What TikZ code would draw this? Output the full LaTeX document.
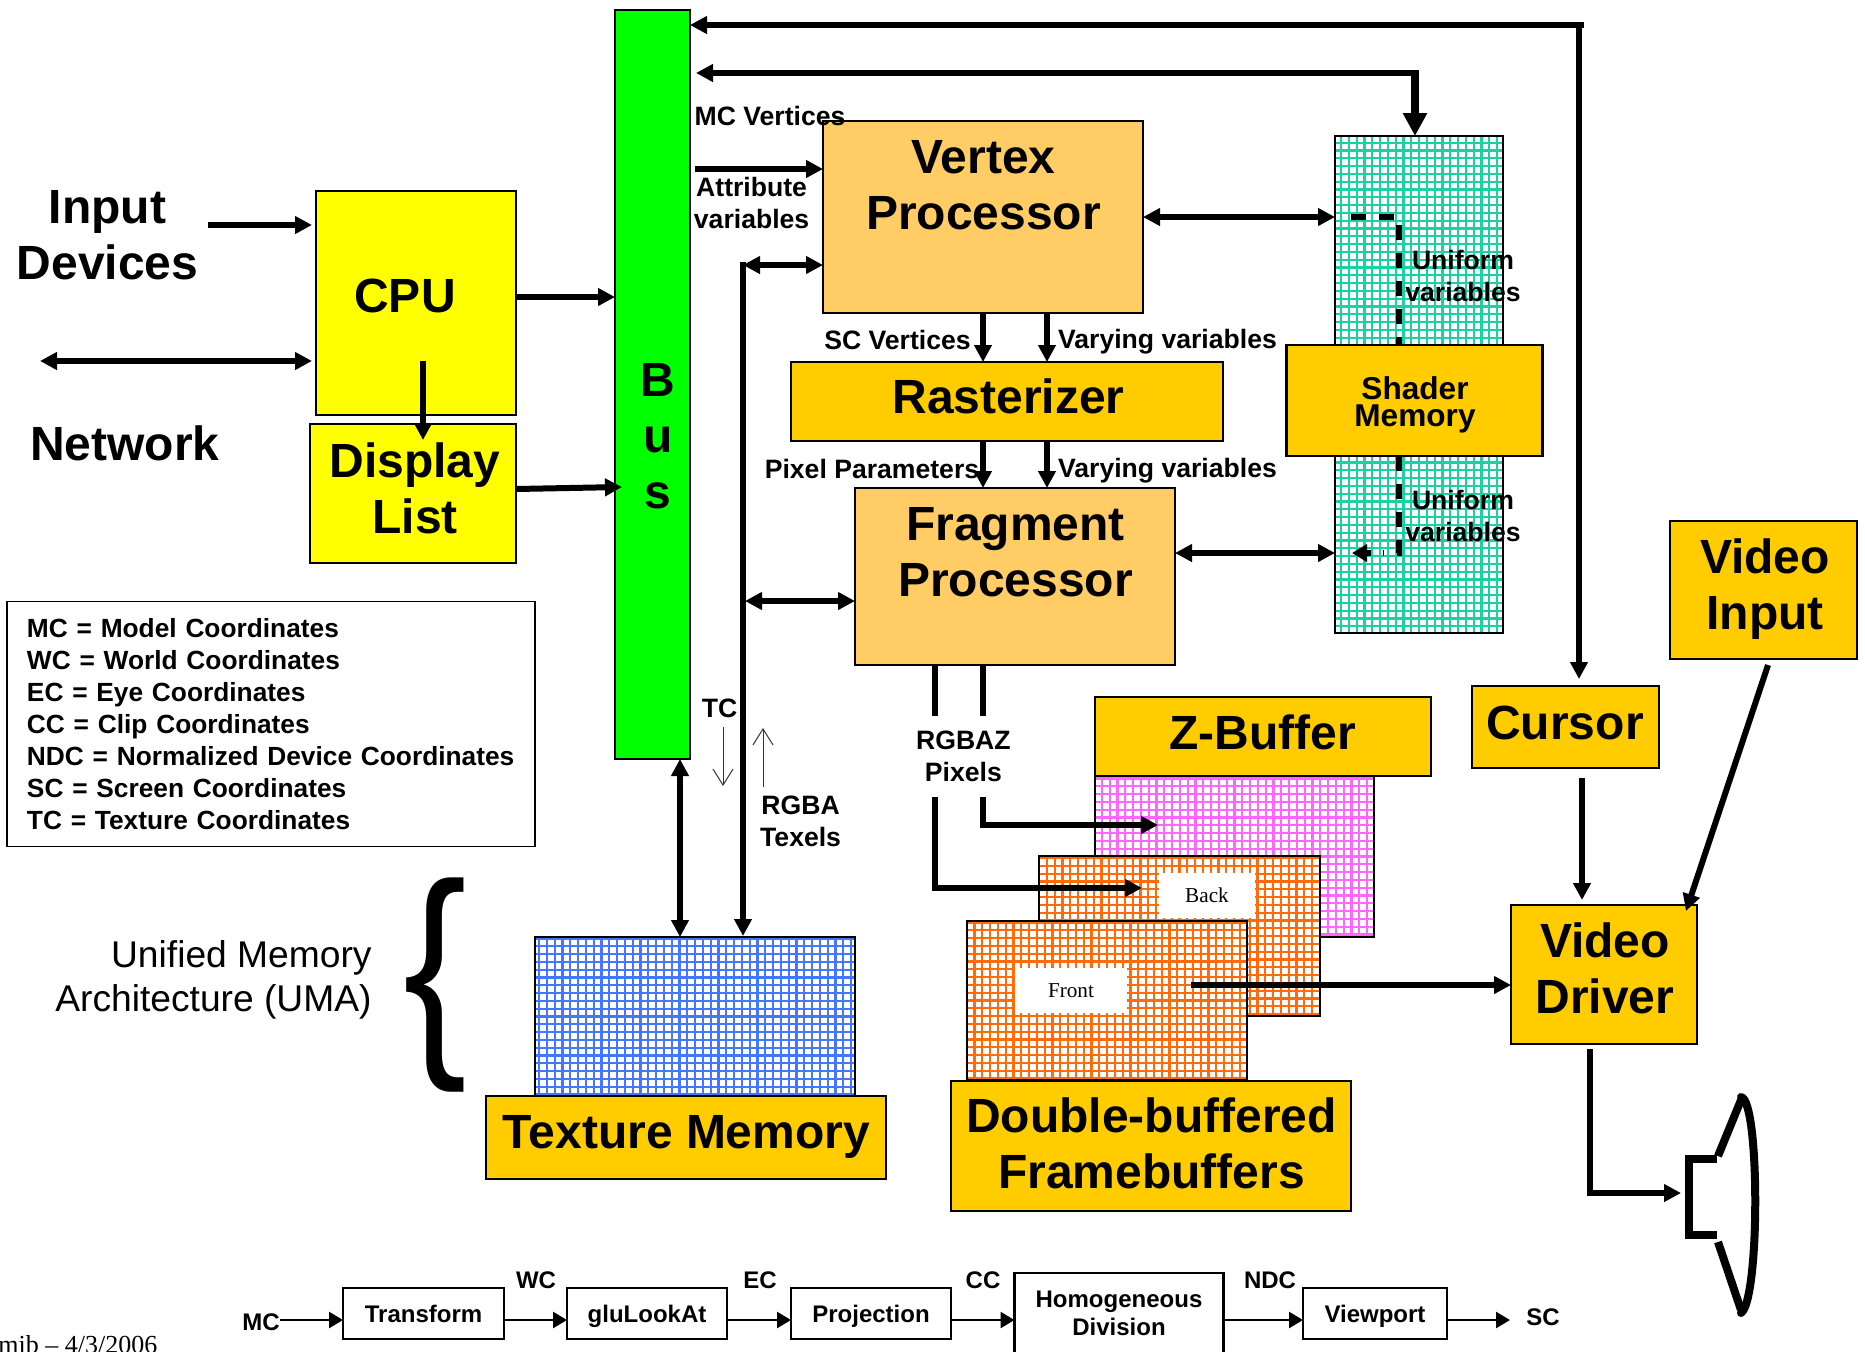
\documentclass[tikz,border=0pt]{standalone}
\usepackage{fontspec}
\setmainfont{Liberation Serif}
\setsansfont{Liberation Sans}
\usepackage{tikz}
\usetikzlibrary{arrows.meta,positioning}

\definecolor{cpuyellow}{HTML}{FFFF00}
\definecolor{boxgold}{HTML}{FFCC00}
\definecolor{procorange}{HTML}{FFCC66}
\definecolor{busgreen}{HTML}{00FF00}
\definecolor{meshgreen}{HTML}{19D1A3}
\definecolor{meshpink}{HTML}{FF66FF}
\definecolor{meshorange}{HTML}{FF6A0A}
\definecolor{meshblue}{HTML}{4477FF}

\tikzset{
  block/.style={draw=black,line width=1.3pt,outer sep=0pt,inner sep=0pt},
  bigtext/.style={inner sep=0pt,font=\sffamily\bfseries\fontsize{24}{28}\selectfont,align=center},
  smalltext/.style={inner sep=0pt,font=\sffamily\bfseries\fontsize{13.3}{16}\selectfont,align=center},
  chaintext/.style={inner sep=0pt,font=\sffamily\bfseries\fontsize{12}{14}\selectfont,align=center},
  chainbox/.style={draw=black,line width=1.2pt,outer sep=0pt,inner sep=0pt,font=\sffamily\bfseries\fontsize{12}{14}\selectfont,align=center},
  chainone/.style={chainbox,text height=8.6pt,text depth=0pt},
  whitetag/.style={fill=white,inner sep=0pt,minimum height=22.5pt,font=\rmfamily\fontsize{10.6}{12}\selectfont},
  mesh/.style={draw=black,line width=1.3pt,outer sep=0pt,inner sep=0pt,fill=white,
    path picture={\draw[draw=#1,line width=1.1pt,step=3.9pt] (path picture bounding box.south west) grid (path picture bounding box.north east);}},
  conn/.style={line width=3pt,-{Triangle[length=8.5pt,width=8.5pt]}},
  biconn/.style={line width=3pt,{Triangle[length=8.5pt,width=8.5pt]}-{Triangle[length=8.5pt,width=8.5pt]}},
  thinconn/.style={line width=1.2pt,-{Triangle[length=7pt,width=8pt]}},
  hairconn/.style={line width=0.5pt,draw=black!80,-{Straight Barb[length=8pt,width=10pt]}},
  wire/.style={line width=3pt},
  dashwire/.style={line width=3pt,dash pattern=on 7.5pt off 6.5pt}
}

\begin{document}
\begin{tikzpicture}[x=0.5pt,y=-0.5pt]
  \useasboundingbox (0,0) rectangle (1865,1351);

  % memories first, the blocks sit on top of them
  \node[mesh=meshgreen,minimum width=84pt,minimum height=248.5pt] (uniform_mem) at (1419,384.5) {};
  \node[mesh=meshpink,minimum width=139.5pt,minimum height=80.5pt] (z_mem) at (1234.5,856.5) {};
  \node[mesh=meshorange,minimum width=140.5pt,minimum height=80pt] (back_mem) at (1179.5,936) {};
  \node[whitetag,minimum width=48pt] (back_lbl) at (1207,895.5) {Back};
  \node[mesh=meshorange,minimum width=140pt,minimum height=79.5pt] (front_mem) at (1107,1000.5) {};
  \node[whitetag,minimum width=56pt] (front_lbl) at (1071,990.5) {Front};
  \node[mesh=meshblue,minimum width=160pt,minimum height=79.5pt] (tex_mem) at (695,1016.5) {};

  % blocks
  \node[block,fill=busgreen,minimum width=37.5pt,minimum height=374.5pt] (bus) at (652.5,384.5) {};
  \node[bigtext] (bus_txt) at (658,436) {B\\u\\s};
  \node[block,fill=cpuyellow,minimum width=100pt,minimum height=112pt] (cpu) at (416,303) {};
  \node[bigtext] (cpu_txt) at (405,296) {CPU};
  \node[block,fill=cpuyellow,minimum width=103pt,minimum height=69.5pt] (dlist) at (413,493.5) {};
  \node[bigtext] (dlist_txt) at (415,488) {Display\\List};
  \node[block,fill=procorange,minimum width=160pt,minimum height=96pt] (vertex) at (983,217) {};
  \node[bigtext] (vertex_txt) at (983.5,185) {Vertex\\Processor};
  \node[block,fill=boxgold,minimum width=216pt,minimum height=39.5pt] (raster) at (1007,401.5) {};
  \node[bigtext] (raster_txt) at (1008.5,396.5) {Rasterizer};
  \node[block,fill=procorange,minimum width=160pt,minimum height=88.5pt] (fragment) at (1015,576.5) {};
  \node[bigtext] (fragment_txt) at (1015.5,552.5) {Fragment\\Processor};
  \node[block,fill=boxgold,minimum width=128pt,minimum height=55.5pt] (shader) at (1414.5,400.5) {};
  \node[bigtext,font=\sffamily\bfseries\fontsize{15.8}{13.7}\selectfont] (shader_txt) at (1415,405) {Shader\\Memory};
  \node[block,fill=boxgold,minimum width=93.5pt,minimum height=69pt] (vinput) at (1763.5,590) {};
  \node[bigtext] (vinput_txt) at (1765,589.5) {Video\\Input};
  \node[block,fill=boxgold,minimum width=93.5pt,minimum height=41pt] (cursor) at (1565.5,727) {};
  \node[bigtext] (cursor_txt) at (1565,722.5) {Cursor};
  \node[block,fill=boxgold,minimum width=168pt,minimum height=39.5pt] (zbuf) at (1263,736.5) {};
  \node[bigtext] (zbuf_txt) at (1262.5,732.5) {Z-Buffer};
  \node[block,fill=boxgold,minimum width=200pt,minimum height=65pt] (dbl) at (1151,1146) {};
  \node[bigtext] (dbl_txt) at (1151.5,1143.5) {Double-buffered\\Framebuffers};
  \node[block,fill=boxgold,minimum width=200pt,minimum height=41.5pt] (texbox) at (686,1137.5) {};
  \node[bigtext] (texbox_txt) at (686.5,1137) {Texture Memory};
  \node[block,fill=boxgold,minimum width=93pt,minimum height=69.5pt] (vdriver) at (1604,974.5) {};
  \node[bigtext] (vdriver_txt) at (1605,968) {Video\\Driver};

  % legend
  \node[draw=black,line width=0.8pt,outer sep=0pt,inner sep=0pt,minimum width=264pt,minimum height=122.5pt,text width=254pt,align=left,
    font=\sffamily\bfseries\fontsize{13.15}{16}\selectfont] (legend) at (271,724)
    {\hspace*{5pt}MC = Model Coordinates\\\hspace*{5pt}WC = World Coordinates\\\hspace*{5pt}EC = Eye Coordinates\\\hspace*{5pt}CC = Clip Coordinates\\\hspace*{5pt}NDC = Normalized Device Coordinates\\\hspace*{5pt}SC = Screen Coordinates\\\hspace*{5pt}TC = Texture Coordinates};

  % free text
  \node[bigtext] (input_lbl) at (107.5,235) {Input\\Devices};
  \node[bigtext] (network_lbl) at (125,443) {Network};
  \node[smalltext] (mcv_lbl) at (770,115.5) {MC Vertices};
  \node[smalltext] (attr_lbl) at (751.6,202.5) {Attribute\\variables};
  \node[smalltext] (scv_lbl) at (897.5,340) {SC Vertices};
  \node[smalltext] (vary1_lbl) at (1167.5,342) {Varying variables};
  \node[smalltext] (pixel_lbl) at (872,469) {Pixel Parameters};
  \node[smalltext] (vary2_lbl) at (1167.5,471) {Varying variables};
  \node[smalltext] (unif1_lbl) at (1463,276) {Uniform\\variables};
  \node[smalltext] (unif2_lbl) at (1463,515.6) {Uniform\\variables};
  \node[smalltext] (tc_lbl) at (719.6,708) {TC};
  \node[smalltext] (rgba_lbl) at (800.6,821) {RGBA\\Texels};
  \node[smalltext] (rgbaz_lbl) at (963.4,756.6) {RGBAZ\\Pixels};
  \node[inner sep=0pt,anchor=east,align=right,font=\sffamily\fontsize{18.6}{22}\selectfont] (uma_lbl) at (372,980) {Unified Memory\\Architecture (UMA)};
  \node[inner sep=0pt,xscale=0.83,font=\sffamily\fontsize{115}{115}\selectfont] (uma_brace) at (435,985) {\{};
  \node[inner sep=0pt,anchor=west,font=\rmfamily\fontsize{13}{15}\selectfont] (date_lbl) at (-2,1345) {mib -- 4/3/2006};

  % bus connections
  \coordinate (input_end) at (208,225);
  \coordinate (net_end) at (40,361);
  \coordinate (cpu_dl) at (423,361);
  \coordinate (dl_cpu) at (423,440);
  \coordinate (top_corner) at (1579,25);
  \coordinate (mem_corner) at (1415,73);
  \coordinate (tex_corner) at (743,265);
  \path (input_end) edge[conn] ([xshift=-2pt]cpu.west |- input_end);
  \path (net_end) edge[biconn] ([xshift=-2pt]cpu.west |- net_end);
  \path (cpu.east |- 0,297) edge[conn] (bus.west |- 0,297);
  \path (cpu_dl) edge[conn] (dl_cpu);
  \draw[conn] (dlist.east |- 0,489) -- (622,487);
  \draw[biconn] ([yshift=3.5pt]cursor.north -| top_corner) -- (top_corner) -- (bus.east |- top_corner);
  \draw[wire] (top_corner) -- ++(5,0);
  \draw[conn] (mem_corner) -- ([xshift=3pt]bus.east |- mem_corner);
  \draw[line width=4pt,-{Triangle[length=11.5pt,width=11.5pt]}] ([yshift=1.5pt]mem_corner) -- (mem_corner |- uniform_mem.north);
  \path ([xshift=2.5pt]bus.east |- 0,169) edge[conn] (vertex.west |- 0,169);
  \path (tex_corner) edge[biconn] (vertex.west |- tex_corner);
  \draw[conn] ([yshift=1.5pt]tex_corner) -- ([yshift=0.5pt]tex_mem.north -| tex_corner);
  \path ([xshift=1pt]tex_corner |- 0,601) edge[biconn] (fragment.west |- 0,601);
  \path (bus.south -| 680,0) edge[biconn] (tex_mem.north -| 680,0);

  % pipeline
  \path (vertex.south -| 983,0) edge[conn] (raster.north -| 983,0);
  \path (vertex.south -| 1047,0) edge[conn] (raster.north -| 1047,0);
  \path (raster.south -| 983,0) edge[conn] (fragment.north -| 983,0);
  \path (raster.south -| 1047,0) edge[conn] (fragment.north -| 1047,0);
  \path (vertex.east |- 0,217) edge[biconn] (uniform_mem.west |- 0,217);
  \path (fragment.east |- 0,553) edge[biconn] (uniform_mem.west |- 0,553);
  \coordinate (dash_a) at (1351,217);
  \coordinate (dash_b) at (1399,553);
  \draw[dashwire] (dash_a) -| (shader.north -| dash_b);
  \draw[dashwire] (shader.south -| dash_b) -- (dash_b) -- (1383,553);
  \draw[line width=3pt,-{Triangle[length=7.5pt,width=8.5pt]}] (1371,553) -- (1352,553);

  % texel arrows
  \coordinate (tc_top) at (723,727);
  \coordinate (tc_bot) at (723,786);
  \coordinate (rgba_bot) at (763,787);
  \coordinate (rgba_top) at (763,728);
  \draw[hairconn] (tc_top) -- (tc_bot);
  \draw[hairconn] (rgba_bot) -- (rgba_top);

  % pixels to the buffers
  \coordinate (pix_a) at (935,716);
  \coordinate (pix_b) at (983,716);
  \coordinate (pix_c) at (983,797);
  \coordinate (pix_d) at (935,797);
  \path (fragment.south -| pix_a) edge[wire] (pix_a);
  \path (fragment.south -| pix_b) edge[wire] (pix_b);
  \draw[conn] (pix_c) |- (1158,825);
  \draw[conn] (pix_d) |- (1142,888);

  % video path
  \coordinate (front_out) at (1191,985);
  \coordinate (vin_out) at (1768,665);
  \coordinate (drv_in) at (1686,911);
  \coordinate (drv_out) at (1590,1049);
  \coordinate (spk_in) at (1681,1193);
  \coordinate (cur_out) at (1582,778);
  \path (front_out) edge[conn] (vdriver.west |- front_out);
  \path (cur_out) edge[conn] (1582,900);
  \path (vin_out) edge[conn] (drv_in);
  \draw[conn] (drv_out) |- (spk_in);

  % speaker
  \draw[line width=4pt] (1717,1159) -| (1689,1235) -- (1717,1235);
  \draw[line width=4pt] (1718,1156) -- (1741,1100);
  \draw[line width=4pt] (1718,1242) -- (1741,1310);
  \draw[line width=4pt,line cap=round] (1741,1097) .. controls (1760,1100) and (1760,1300) .. (1741,1313);

  % transform chain
  \node[chainone,minimum width=80.5pt,minimum height=25.5pt] (transform) at (423.5,1313.5) {Transform};
  \node[chainone,minimum width=80pt,minimum height=25.5pt] (glulookat) at (647,1313.5) {gluLookAt};
  \node[chainone,minimum width=80pt,minimum height=25.5pt] (projection) at (871,1313.5) {Projection};
  \node[chainbox,minimum width=104.5pt,minimum height=40pt] (homog) at (1119,1313) {Homogeneous\\Division};
  \node[chainone,minimum width=72pt,minimum height=25.5pt] (viewport) at (1375,1313.5) {Viewport};
  \node[chaintext] (mc_lbl) at (261,1322) {MC};
  \node[chaintext] (wc_lbl) at (536,1280) {WC};
  \node[chaintext] (ec_lbl) at (760,1280) {EC};
  \node[chaintext] (cc_lbl) at (983,1280) {CC};
  \node[chaintext] (ndc_lbl) at (1270,1280) {NDC};
  \node[chaintext] (sc_lbl) at (1543,1317) {SC};
  \coordinate (sc_in) at (1510,1320);
  \path (mc_lbl.east |- sc_in) edge[thinconn] (transform.west |- sc_in);
  \path (transform.east |- sc_in) edge[thinconn] (glulookat.west |- sc_in);
  \path (glulookat.east |- sc_in) edge[thinconn] (projection.west |- sc_in);
  \path (projection.east |- sc_in) edge[thinconn] (homog.west |- sc_in);
  \path (homog.east |- sc_in) edge[thinconn] (viewport.west |- sc_in);
  \path (viewport.east |- sc_in) edge[thinconn] (sc_in);
\end{tikzpicture}
\end{document}
